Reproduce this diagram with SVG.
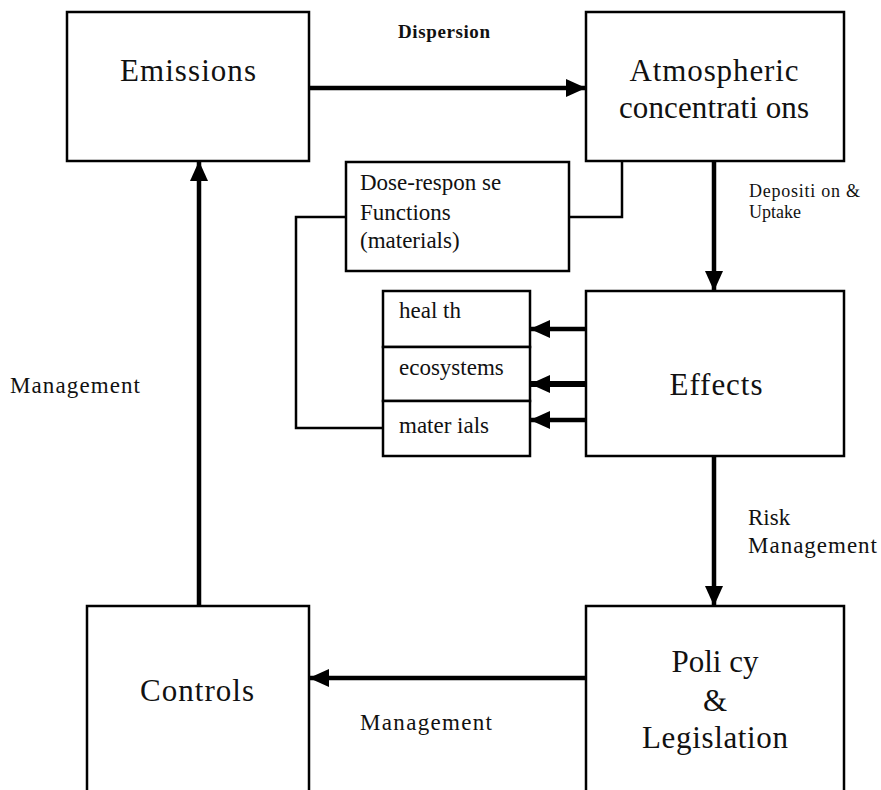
<svg xmlns="http://www.w3.org/2000/svg" width="881" height="790" viewBox="0 0 881 790">
<style>
.box{fill:#fff;stroke:#000;stroke-width:2.5}
.t{font-family:'Liberation Serif','DejaVu Serif','Noto Serif',serif;fill:#111}
.big{font-size:31px}
.mid{font-size:23px}
.sm{font-size:18px}
.ln{fill:none;stroke:#000;stroke-width:2.5}
.arr{fill:none;stroke:#000;stroke-width:4.5;marker-end:url(#ah)}
</style>
<defs>
<marker id="ah" markerUnits="userSpaceOnUse" markerWidth="20" markerHeight="18" viewBox="0 0 20 18" refX="20" refY="9" orient="auto">
<path d="M0,0 L20,9 L0,18 Z" fill="#000"/>
</marker>
</defs>
<rect width="881" height="790" fill="#fff"/>
<g id="connectors">
<line class="arr" x1="309" y1="88" x2="586" y2="88"/>
<line class="arr" x1="714" y1="161" x2="714" y2="291"/>
<line class="arr" x1="714" y1="456" x2="714" y2="606"/>
<line class="arr" x1="586" y1="678" x2="309" y2="678"/>
<line class="arr" x1="199" y1="606" x2="199" y2="161"/>
<line class="arr" x1="586" y1="329" x2="530" y2="329"/>
<line class="arr" x1="586" y1="384" x2="530" y2="384" style="stroke-width:6"/>
<line class="arr" x1="586" y1="420" x2="530" y2="420"/>
<polyline class="ln" points="569,217 622,217 622,161"/>
<polyline class="ln" points="346,217 296,217 296,428 383,428"/>
</g>
<g id="emissions">
<rect class="box" x="67" y="12" width="242" height="149"/>
<text class="t big" font-family="Liberation Serif, serif" x="188" y="81" text-anchor="middle" textLength="136">Emissions</text>
</g>
<g id="atmospheric">
<rect class="box" x="586" y="12" width="258" height="149"/>
<text class="t big" font-family="Liberation Serif, serif" x="714" y="81" text-anchor="middle" textLength="169">Atmospheric</text>
<text class="t big" font-family="Liberation Serif, serif" x="714" y="118" text-anchor="middle" textLength="190">concentrati ons</text>
</g>
<g id="dose-response">
<rect class="box" x="346" y="162" width="223" height="109"/>
<text class="t mid" font-family="Liberation Serif, serif" x="360" y="190">Dose-respon se</text>
<text class="t mid" font-family="Liberation Serif, serif" x="360" y="220">Functions</text>
<text class="t mid" font-family="Liberation Serif, serif" x="360" y="248">(materials)</text>
</g>
<g id="categories">
<rect class="box" x="383" y="291" width="147" height="56"/>
<rect class="box" x="383" y="347" width="147" height="54"/>
<rect class="box" x="383" y="401" width="147" height="55"/>
<text class="t mid" font-family="Liberation Serif, serif" x="399" y="318">heal th</text>
<text class="t mid" font-family="Liberation Serif, serif" x="399" y="375">ecosystems</text>
<text class="t mid" font-family="Liberation Serif, serif" x="399" y="433">mater ials</text>
</g>
<g id="effects">
<rect class="box" x="586" y="291" width="258" height="165"/>
<text class="t big" font-family="Liberation Serif, serif" x="716" y="395" text-anchor="middle" textLength="93">Effects</text>
</g>
<g id="policy">
<rect class="box" x="586" y="606" width="258" height="200"/>
<text class="t big" font-family="Liberation Serif, serif" x="715" y="672" text-anchor="middle">Poli cy</text>
<text class="t big" font-family="Liberation Serif, serif" x="715" y="711" text-anchor="middle">&amp;</text>
<text class="t big" font-family="Liberation Serif, serif" x="715" y="748" text-anchor="middle" textLength="146">Legislation</text>
</g>
<g id="controls">
<rect class="box" x="87" y="606" width="222" height="200"/>
<text class="t big" font-family="Liberation Serif, serif" x="197" y="701" text-anchor="middle" textLength="114">Controls</text>
</g>
<g id="labels">
<text class="t" font-family="Liberation Serif, serif" x="398" y="38" font-size="19" textLength="92" style="font-weight:600">Dispersion</text>
<text class="t sm" font-family="Liberation Serif, serif" x="749" y="197" textLength="111">Depositi on &amp;</text>
<text class="t sm" font-family="Liberation Serif, serif" x="749" y="218">Uptake</text>
<text class="t mid" font-family="Liberation Serif, serif" x="748" y="525">Risk</text>
<text class="t mid" font-family="Liberation Serif, serif" x="748" y="553" textLength="129">Management</text>
<text class="t mid" font-family="Liberation Serif, serif" x="10" y="393" textLength="130">Management</text>
<text class="t mid" font-family="Liberation Serif, serif" x="360" y="730" textLength="132">Management</text>
</g>
</svg>
